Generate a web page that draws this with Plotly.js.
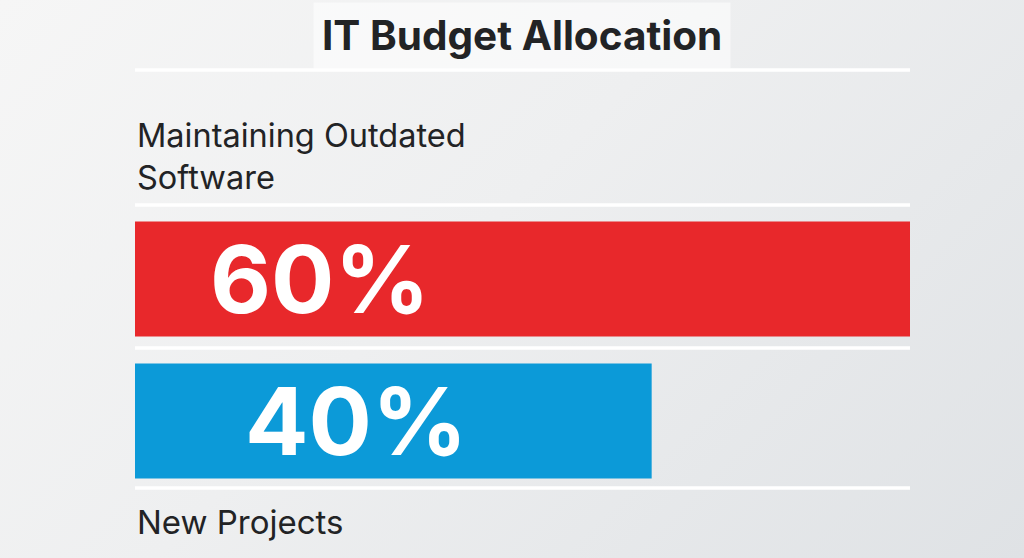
<!DOCTYPE html>
<html>
<head>
<meta charset="utf-8">
<script src="https://cdn.plot.ly/plotly-3.0.1.min.js"></script>
<style>
  html, body { margin:0; padding:0; }
  #chart { width:1024px; height:558px; background: linear-gradient(135deg, #f6f6f6 0%, #eeeff0 45%, #dfe2e5 100%); }
</style>
</head>
<body>
<div id="chart"></div>
<script>
const categories = ["Maintaining Outdated Software", "New Projects"];
const categoryLabels = ["Maintaining Outdated<br>Software", "New Projects"];
const values = [60, 40];
const barColors = ["#E8282B", "#0C9AD8"];
const chartTitle = "IT Budget Allocation";

const FONT = "Inter, 'Open Sans', sans-serif";

const trace = {
  type: "bar",
  orientation: "h",
  x: values,
  y: categories,
  marker: { color: barColors, line: { width: 0 } },
  width: 0.81,
  hoverinfo: "skip"
};

// pixel -> paper helpers for this layout (plot area top 208, bottom 492)
const py = p => (492 - p) / 284;

const annotations = [
  { text: "<b>" + chartTitle + "</b>", xref: "paper", yref: "paper", x: 0.4994, y: py(35), xanchor: "center", yanchor: "middle",
    showarrow: false, font: { family: FONT, size: 40.5, color: "#222325" }, bgcolor: "rgba(255,255,255,0.55)", borderpad: 8 },
  { text: categoryLabels[0], xref: "paper", yref: "paper", x: 0, y: py(156), xanchor: "left", yanchor: "middle", align: "left",
    showarrow: false, font: { family: FONT, size: 32.5, color: "#222325" } },
  { text: categoryLabels[1], xref: "paper", yref: "paper", x: 0, y: py(522), xanchor: "left", yanchor: "middle", align: "left",
    showarrow: false, font: { family: FONT, size: 33, color: "#222325" } },
  { text: "<b>" + values[0] + "%</b>", xref: "paper", yref: "y", x: 0.239, y: categories[0], xanchor: "center", yanchor: "middle",
    showarrow: false, font: { family: FONT, size: 94, color: "#ffffff" } },
  { text: "<b>" + values[1] + "%</b>", xref: "paper", yref: "y", x: 0.2855, y: categories[1], xanchor: "center", yanchor: "middle",
    showarrow: false, font: { family: FONT, size: 94, color: "#ffffff" } }
];

const lineYs = [70, 205, 348, 488];
const shapes = lineYs.map(p => ({
  type: "line", xref: "paper", yref: "paper", x0: 0, x1: 1, y0: py(p), y1: py(p),
  line: { color: "#ffffff", width: 3.5 }, layer: "below"
}));

const layout = {
  width: 1024, height: 558,
  margin: { l: 135, r: 114, t: 208, b: 66, pad: 0 },
  paper_bgcolor: "rgba(0,0,0,0)",
  plot_bgcolor: "rgba(0,0,0,0)",
  showlegend: false,
  xaxis: { range: [0, 60], visible: false, fixedrange: true },
  yaxis: { range: [1.5, -0.5], visible: false, type: "category", fixedrange: true },
  annotations: annotations,
  shapes: shapes
};

Plotly.newPlot("chart", [trace], layout, { displayModeBar: false, staticPlot: true });
</script>
</body>
</html>
